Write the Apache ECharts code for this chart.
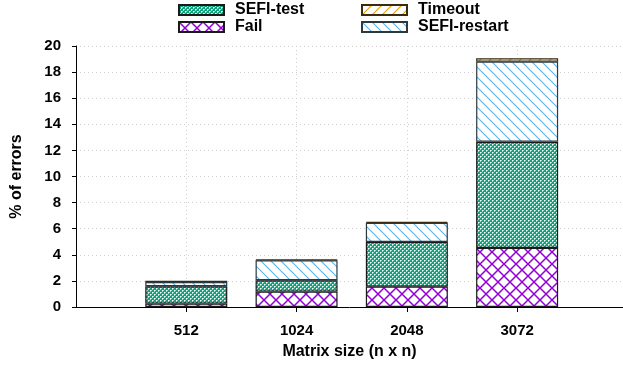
<!DOCTYPE html>
<html>
<head>
<meta charset="utf-8">
<script src="https://cdn.jsdelivr.net/npm/echarts@6/dist/echarts.min.js"></script>
<style>
  html, body { margin: 0; padding: 0; background: #fff; }
  #chart { width: 623px; height: 368px; }
</style>
</head>
<body>
<div id="chart"></div>
<script>
// Matrix sizes (n x n)
const categories = ['512', '1024', '2048', '3072'];
// Percentage of errors per outcome, stacked bottom to top
const failValues        = [0.26, 1.18, 1.56, 4.53];
const sefiTestValues    = [1.33, 0.87, 3.43, 8.13];
const sefiRestartValues = [0.33, 1.53, 1.46, 6.14];
const timeoutValues     = [0.10, 0.05, 0.07, 0.26];
const yTicks = [0, 2, 4, 6, 8, 10, 12, 14, 16, 18, 20];

// Small repeating fill patterns for the stacked segments
function makePattern(size, draw) {
  const c = document.createElement('canvas');
  c.width = size; c.height = size;
  const g = c.getContext('2d');
  g.fillStyle = '#fff';
  g.fillRect(0, 0, size, size);
  draw(g, size);
  return { image: c, repeat: 'repeat' };
}
function diagDown(g, s) { // "\" direction
  g.beginPath();
  g.moveTo(-1, -1); g.lineTo(s + 1, s + 1);
  g.moveTo(-1, s - 1); g.lineTo(1, s + 1);
  g.moveTo(s - 1, -1); g.lineTo(s + 1, 1);
  g.stroke();
}
function diagUp(g, s) { // "/" direction
  g.beginPath();
  g.moveTo(-1, s + 1); g.lineTo(s + 1, -1);
  g.moveTo(-1, 1); g.lineTo(1, -1);
  g.moveTo(s - 1, s + 1); g.lineTo(s + 1, s - 1);
  g.stroke();
}

const failFill = makePattern(12, (g, s) => {
  g.strokeStyle = '#9400d3'; g.lineWidth = 1.5;
  diagDown(g, s); diagUp(g, s);
});
const sefiTestFill = makePattern(4, (g, s) => {
  g.fillStyle = '#13a07c';
  g.fillRect(0, 0, s, s);
  g.fillStyle = '#ffffff';
  g.fillRect(0, 0, 1, 1);
  g.fillRect(2, 2, 1, 1);
  g.fillStyle = 'rgba(255,255,255,0.6)';
  g.fillRect(1, 0, 1, 1);
  g.fillRect(0, 1, 1, 1);
  g.fillRect(3, 2, 1, 1);
  g.fillRect(2, 3, 1, 1);
});
const sefiRestartFill = makePattern(10, (g, s) => {
  g.strokeStyle = '#56b4e9'; g.lineWidth = 1.1;
  diagDown(g, s);
});
const timeoutFill = makePattern(10, (g, s) => {
  g.strokeStyle = '#e69f00'; g.lineWidth = 1.1;
  diagUp(g, s);
});

// Bars sit at positions 1..n on the horizontal axis.
// Rows are [value, position] so the value column is the one that stacks.
const positions = categories.map((_, i) => i + 1);
const rows = values => values.map((v, i) => [v, positions[i]]);

const boldFont = { fontFamily: 'Liberation Sans, Arial, sans-serif', fontWeight: 'bold', color: '#000' };

function barSeries(name, values, fill, border) {
  return {
    name: name,
    type: 'bar',
    stack: 'errors',
    barWidth: 82,
    encode: { x: 1, y: 0 },
    data: rows(values),
    itemStyle: { color: fill, borderColor: border, borderWidth: 1.2 },
    emphasis: { disabled: true }
  };
}

const legendText = Object.assign({ fontSize: 16, lineHeight: 16, padding: [0, 0, 0, 6] }, boldFont);

const chart = echarts.init(document.getElementById('chart'), null, { renderer: 'canvas' });
chart.setOption({
  animation: false,
  grid: { left: 76, right: 0, top: 46, bottom: 61, containLabel: false },
  legend: [
    {
      data: ['SEFI-test', 'Fail'],
      orient: 'vertical', left: 173, top: -3, itemWidth: 45, itemHeight: 10, itemGap: 1,
      icon: 'rect', textStyle: legendText, selectedMode: false
    },
    {
      data: ['Timeout', 'SEFI-restart'],
      orient: 'vertical', left: 356, top: -3, itemWidth: 45, itemHeight: 10, itemGap: 1,
      icon: 'rect', textStyle: legendText, selectedMode: false
    }
  ],
  xAxis: {
    type: 'value',
    min: 0,
    max: 4.96,
    interval: 1,
    name: 'Matrix size (n x n)',
    nameLocation: 'middle',
    nameGap: 37,
    nameTextStyle: Object.assign({ fontSize: 16 }, boldFont),
    axisLine: { show: true, onZero: false, lineStyle: { color: '#000', width: 1 } },
    axisTick: { show: true, length: 5, customValues: positions, lineStyle: { color: '#000' } },
    axisLabel: Object.assign({
      fontSize: 15, margin: 16, customValues: positions,
      formatter: v => categories[Math.round(v) - 1] || ''
    }, boldFont),
    splitLine: { show: true, lineStyle: { color: '#cfcfcf', type: [1, 3], width: 1 } }
  },
  yAxis: {
    type: 'value',
    min: yTicks[0],
    max: yTicks[yTicks.length - 1],
    interval: yTicks[1] - yTicks[0],
    name: '% of errors',
    nameLocation: 'middle',
    nameGap: 51,
    nameTextStyle: Object.assign({ fontSize: 16 }, boldFont),
    axisLine: { show: true, lineStyle: { color: '#000', width: 1 } },
    axisTick: { show: true, length: 4, lineStyle: { color: '#000' } },
    axisLabel: Object.assign({ fontSize: 15, margin: 15 }, boldFont),
    splitLine: { show: true, lineStyle: { color: '#cfcfcf', type: [1, 3], width: 1 } }
  },
  series: [
    barSeries('Fail', failValues, failFill, '#1a1a1a'),
    barSeries('SEFI-test', sefiTestValues, sefiTestFill, '#1a1a1a'),
    barSeries('SEFI-restart', sefiRestartValues, sefiRestartFill, '#2a3a40'),
    barSeries('Timeout', timeoutValues, timeoutFill, '#3a2a10')
  ]
});
</script>
</body>
</html>
